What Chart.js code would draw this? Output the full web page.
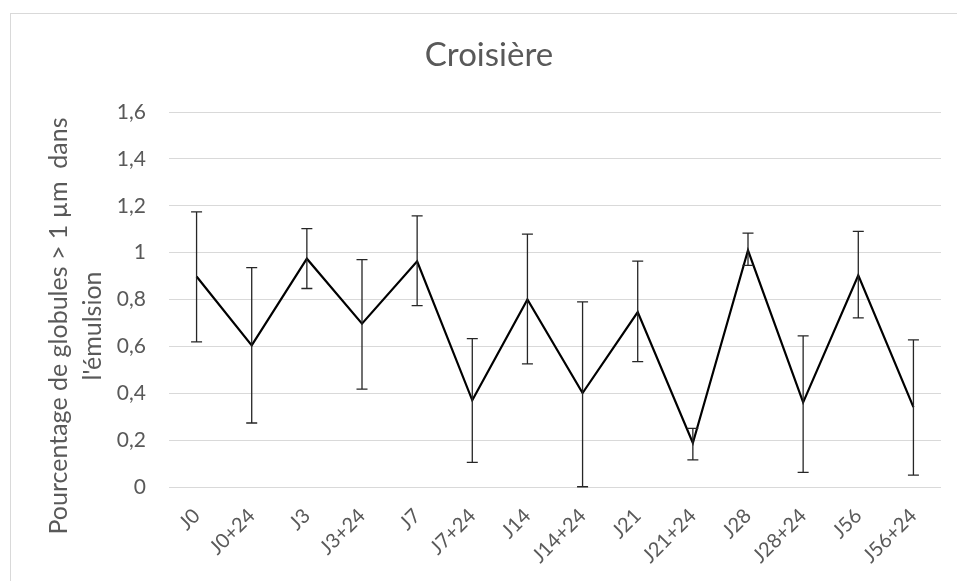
<!DOCTYPE html>
<html>
<head>
<meta charset="utf-8">
<title>Croisière</title>
<script src="https://cdn.jsdelivr.net/npm/chart.js@4.4.1/dist/chart.umd.min.js"></script>
<style>
  html, body { margin: 0; padding: 0; background: #fff; overflow: hidden; }
  #frame {
    position: absolute; left: 10px; top: 13px;
    width: 1000px; height: 620px;
    border: 1px solid #d9d9d9;
  }
  #chart { position: absolute; left: 0; top: 0; }
</style>
</head>
<body>
<div id="frame"></div>
<canvas id="chart" width="957" height="581"></canvas>
<script>
// Croisière — % of globules > 1 µm, mean with error bars

const labels = ['J0', 'J0+24', 'J3', 'J3+24', 'J7', 'J7+24', 'J14', 'J14+24',
                'J21', 'J21+24', 'J28', 'J28+24', 'J56', 'J56+24'];
const means  = [0.898, 0.604, 0.974, 0.697, 0.963, 0.370, 0.800, 0.401,
                0.746, 0.188, 1.010, 0.361, 0.903, 0.341];
const upper  = [1.174, 0.936, 1.102, 0.970, 1.157, 0.633, 1.079, 0.790,
                0.964, 0.250, 1.083, 0.645, 1.091, 0.628];
const lower  = [0.619, 0.273, 0.847, 0.418, 0.774, 0.105, 0.525, 0.001,
                0.535, 0.116, 0.946, 0.062, 0.722, 0.051];
const yTicks = [0, 0.2, 0.4, 0.6, 0.8, 1, 1.2, 1.4, 1.6];
const yTitle = ['Pourcentage de globules > 1 µm  dans', "l'émulsion"];

const GREY = '#595959';
const FONT = 'Lato';

// ─── Plugins ────────────────────────────────────────────────────────────────

const errorBars = {
  id: 'errorBars',
  afterDatasetsDraw(chart) {
    const { ctx, scales: { x, y } } = chart;
    const cap = 5.5;
    ctx.save();
    ctx.strokeStyle = '#262626';
    ctx.lineWidth = 1.3;
    means.forEach((_, i) => {
      const px = x.getPixelForValue(i);
      const top = y.getPixelForValue(upper[i]);
      const bot = y.getPixelForValue(lower[i]);
      ctx.beginPath();
      ctx.moveTo(px, top); ctx.lineTo(px, bot);
      ctx.moveTo(px - cap, top); ctx.lineTo(px + cap, top);
      ctx.moveTo(px - cap, bot); ctx.lineTo(px + cap, bot);
      ctx.stroke();
    });
    ctx.restore();
  }
};

// axis title is centred a bit lower than the plot, as in the original
const yAxisTitle = {
  id: 'yAxisTitle',
  afterDraw(chart) {
    const { ctx } = chart;
    const cy = 326;
    ctx.save();
    ctx.fillStyle = GREY;
    ctx.font = `25px ${FONT}`;
    ctx.textAlign = 'center';
    ctx.textBaseline = 'middle';
    ctx.translate(59, cy);
    ctx.rotate(-Math.PI / 2);
    yTitle.forEach((line, i) => ctx.fillText(line, 0, i * 34));
    ctx.restore();
  }
};

// ─── Chart ──────────────────────────────────────────────────────────────────

new Chart(document.getElementById('chart'), {
  type: 'line',
  data: {
    labels,
    datasets: [{
      data: means,
      borderColor: '#000',
      borderWidth: 2.2,
      pointRadius: 0,
      tension: 0,
      fill: false,
    }]
  },
  options: {
    responsive: false,
    animation: false,
    layout: { padding: { left: 37, right: 16, top: 0, bottom: 0 } },
    plugins: {
      legend: { display: false },
      tooltip: { enabled: false },
      title: {
        display: true,
        text: 'Croisière',
        color: GREY,
        font: { family: FONT, size: 33, weight: 'normal' },
        padding: { top: 36, bottom: 36.4 },
      },
    },
    scales: {
      x: {
        offset: true,
        grid: { display: false, drawTicks: false },
        border: { display: false },
        ticks: {
          color: GREY,
          font: { family: FONT, size: 20 },
          minRotation: 45,
          maxRotation: 45,
          autoSkip: false,
          padding: 17,
        },
        afterFit: s => { s.height = 94; },
      },
      y: {
        min: 0,
        max: 1.6,
        afterBuildTicks: s => { s.ticks = yTicks.map(v => ({ value: v })); },
        grid: { color: '#d9d9d9', lineWidth: 1, drawTicks: false },
        border: { display: false },
        ticks: {
          color: GREY,
          font: { family: FONT, size: 21 },
          padding: 23,
          callback: v => String(Math.round(v * 10) / 10).replace('.', ','),
        },
        afterFit: s => { s.width = 132; },
      }
    }
  },
  plugins: [errorBars, yAxisTitle]
});
</script>
</body>
</html>
